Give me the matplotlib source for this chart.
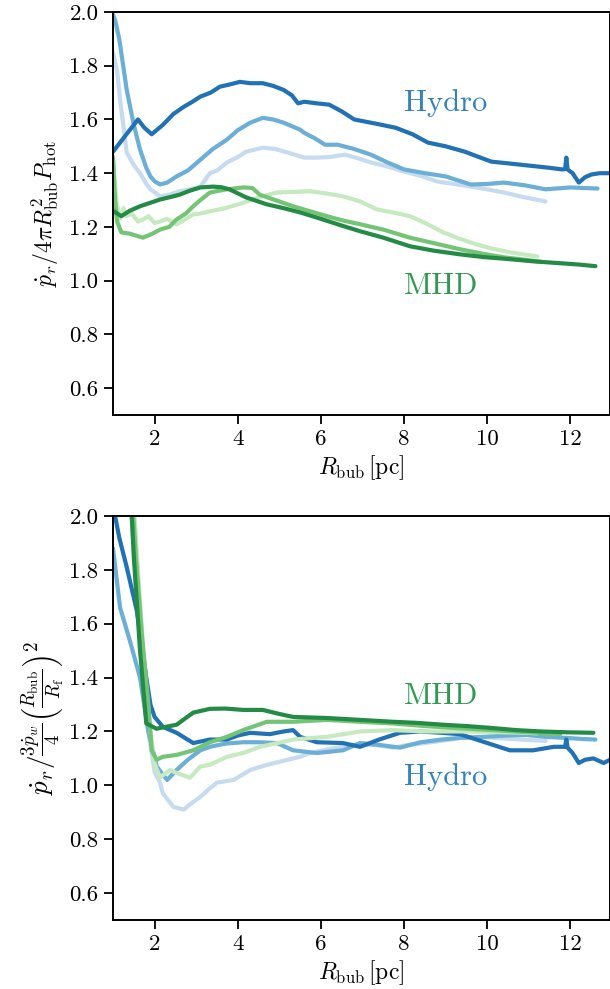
import matplotlib
matplotlib.use("Agg")
import matplotlib.pyplot as plt

plt.rcParams['font.family'] = 'serif'
plt.rcParams['font.serif'] = ['cmr10', 'DejaVu Serif']
plt.rcParams['mathtext.fontset'] = 'cm'
plt.rcParams['axes.formatter.use_mathtext'] = True

# colours
c_hydro = ['#c6dbef', '#6baed6', '#2171b5']
c_mhd = ['#c7e9c0', '#74c476', '#238b45']
c_hydro_txt = '#3182bd'
c_mhd_txt = '#2f9a4f'

# ---------------- top panel data ----------------
top_hydro_dark_x = [1.0, 1.2, 1.4, 1.6, 1.75, 1.93, 2.2, 2.45, 2.7, 2.9, 3.1, 3.35, 3.57, 3.8, 4.05, 4.3, 4.6, 4.85, 5.1, 5.3, 5.45, 5.6, 5.9, 6.2, 6.5, 6.8, 7.3, 7.8, 8.2, 8.57, 9.0, 9.46, 9.8, 10.1, 10.6, 11.2, 11.5, 11.8, 11.87, 11.9, 11.93, 12.05, 12.2, 12.35, 12.5, 12.7, 12.95]
top_hydro_dark_y = [1.48, 1.52, 1.56, 1.60, 1.57, 1.545, 1.58, 1.62, 1.647, 1.665, 1.685, 1.70, 1.722, 1.73, 1.74, 1.735, 1.735, 1.725, 1.71, 1.69, 1.66, 1.666, 1.66, 1.655, 1.63, 1.60, 1.585, 1.569, 1.545, 1.514, 1.50, 1.48, 1.46, 1.443, 1.435, 1.425, 1.42, 1.414, 1.415, 1.458, 1.414, 1.40, 1.365, 1.385, 1.395, 1.40, 1.40]

top_hydro_mid_x = [1.0, 1.05, 1.15, 1.33, 1.5, 1.65, 1.8, 1.9, 2.0, 2.13, 2.3, 2.53, 2.8, 3.1, 3.4, 3.74, 4.0, 4.3, 4.6, 4.85, 5.1, 5.5, 5.6, 5.85, 6.1, 6.4, 6.8, 7.2, 7.6, 8.0, 8.5, 9.0, 9.6, 10.0, 10.4, 10.9, 11.4, 12.0, 12.3, 12.65]
top_hydro_mid_y = [1.99, 1.97, 1.90, 1.71, 1.58, 1.488, 1.42, 1.388, 1.37, 1.358, 1.365, 1.388, 1.41, 1.45, 1.49, 1.525, 1.56, 1.588, 1.606, 1.60, 1.588, 1.562, 1.55, 1.53, 1.506, 1.506, 1.49, 1.469, 1.44, 1.414, 1.40, 1.388, 1.358, 1.36, 1.365, 1.355, 1.34, 1.347, 1.345, 1.343]

top_hydro_light_x = [1.0, 1.1, 1.17, 1.33, 1.5, 1.65, 1.8, 1.9, 2.13, 2.35, 2.6, 2.85, 3.1, 3.33, 3.5, 3.74, 4.0, 4.2, 4.6, 4.9, 5.2, 5.6, 5.86, 6.2, 6.58, 6.9, 7.2, 7.6, 8.0, 8.4, 8.8, 9.2, 9.6, 10.0, 10.4, 10.9, 11.4]
top_hydro_light_y = [1.85, 1.78, 1.673, 1.477, 1.43, 1.40, 1.36, 1.34, 1.314, 1.32, 1.333, 1.34, 1.35, 1.40, 1.41, 1.44, 1.46, 1.48, 1.495, 1.49, 1.477, 1.458, 1.458, 1.46, 1.469, 1.455, 1.44, 1.425, 1.406, 1.39, 1.369, 1.36, 1.35, 1.34, 1.328, 1.31, 1.295]

top_mhd_dark_x = [1.0, 1.1, 1.2, 1.4, 1.65, 1.9, 2.13, 2.4, 2.6, 2.85, 3.1, 3.4, 3.6, 3.8, 4.0, 4.2, 4.45, 4.7, 5.1, 5.5, 6.0, 6.5, 6.94, 7.5, 8.14, 8.7, 9.34, 9.9, 10.54, 11.1, 11.75, 12.2, 12.6]
top_mhd_dark_y = [1.26, 1.25, 1.24, 1.26, 1.277, 1.29, 1.302, 1.312, 1.32, 1.335, 1.347, 1.35, 1.348, 1.34, 1.325, 1.31, 1.297, 1.284, 1.27, 1.254, 1.23, 1.205, 1.184, 1.16, 1.128, 1.112, 1.098, 1.088, 1.08, 1.072, 1.065, 1.06, 1.054]

top_mhd_mid_x = [1.0, 1.05, 1.1, 1.2, 1.4, 1.72, 1.95, 2.13, 2.35, 2.53, 2.75, 2.93, 3.1, 3.33, 3.55, 3.74, 4.13, 4.35, 4.53, 4.9, 5.33, 5.7, 6.14, 6.5, 6.94, 7.5, 8.14, 8.7, 9.34, 9.9, 10.4, 10.9, 11.3]
top_mhd_mid_y = [1.46, 1.30, 1.22, 1.18, 1.175, 1.16, 1.175, 1.19, 1.20, 1.228, 1.25, 1.277, 1.30, 1.328, 1.335, 1.34, 1.347, 1.345, 1.32, 1.30, 1.277, 1.26, 1.24, 1.225, 1.21, 1.19, 1.16, 1.14, 1.117, 1.10, 1.087, 1.078, 1.07]

top_mhd_light_x = [1.0, 1.05, 1.1, 1.17, 1.25, 1.33, 1.45, 1.6, 1.72, 1.85, 2.0, 2.13, 2.3, 2.53, 2.7, 2.93, 3.1, 3.33, 3.7, 4.13, 4.5, 4.94, 5.3, 5.74, 6.1, 6.53, 6.94, 7.35, 7.7, 8.14, 8.5, 8.94, 9.3, 9.74, 10.1, 10.54, 10.9, 11.2]
top_mhd_light_y = [1.45, 1.35, 1.28, 1.23, 1.27, 1.24, 1.25, 1.22, 1.228, 1.24, 1.215, 1.22, 1.23, 1.21, 1.225, 1.247, 1.25, 1.258, 1.27, 1.29, 1.31, 1.328, 1.33, 1.333, 1.325, 1.314, 1.295, 1.265, 1.255, 1.24, 1.215, 1.18, 1.158, 1.135, 1.12, 1.106, 1.097, 1.09]

# ---------------- bottom panel data ----------------
bot_hydro_dark_x = [1.0, 1.05, 1.15, 1.33, 1.57, 1.7, 1.8, 1.9, 2.0, 2.2, 2.53, 2.93, 3.33, 3.74, 4.0, 4.3, 4.77, 5.1, 5.33, 5.5, 5.9, 6.53, 6.94, 7.4, 7.9, 8.4, 8.9, 9.34, 10.0, 10.54, 11.1, 11.6, 11.87, 11.9, 11.93, 12.05, 12.2, 12.35, 12.55, 12.8, 12.95]
bot_hydro_dark_y = [2.15, 2.0, 1.92, 1.81, 1.65, 1.52, 1.40, 1.30, 1.254, 1.217, 1.195, 1.157, 1.17, 1.17, 1.185, 1.195, 1.19, 1.20, 1.205, 1.18, 1.16, 1.157, 1.143, 1.17, 1.195, 1.20, 1.195, 1.19, 1.157, 1.13, 1.13, 1.143, 1.143, 1.17, 1.14, 1.12, 1.083, 1.095, 1.10, 1.083, 1.095]

bot_hydro_mid_x = [1.0, 1.17, 1.4, 1.65, 1.85, 2.05, 2.3, 2.53, 2.8, 3.1, 3.33, 3.7, 4.13, 4.5, 4.94, 5.33, 5.9, 6.53, 6.94, 7.4, 7.9, 8.4, 8.9, 9.34, 9.9, 10.5, 10.95, 11.4, 11.9, 12.3, 12.6]
bot_hydro_mid_y = [1.88, 1.66, 1.54, 1.40, 1.20, 1.07, 1.02, 1.057, 1.095, 1.13, 1.143, 1.155, 1.16, 1.16, 1.157, 1.13, 1.12, 1.13, 1.157, 1.15, 1.14, 1.16, 1.17, 1.176, 1.18, 1.185, 1.187, 1.18, 1.176, 1.172, 1.17]

bot_hydro_light_x = [1.4, 1.55, 1.7, 1.85, 2.0, 2.13, 2.2, 2.45, 2.7, 2.9, 3.1, 3.3, 3.5, 3.9, 4.3, 4.7, 5.2, 5.5, 5.74, 6.2, 6.8, 7.3, 7.73, 8.1, 8.5, 8.9, 9.34, 9.8, 10.3, 10.8, 11.4]
bot_hydro_light_y = [2.1, 1.75, 1.45, 1.2, 1.05, 1.01, 0.97, 0.92, 0.91, 0.935, 0.957, 0.985, 1.01, 1.02, 1.057, 1.076, 1.095, 1.106, 1.12, 1.135, 1.15, 1.15, 1.14, 1.15, 1.157, 1.165, 1.176, 1.18, 1.175, 1.17, 1.165]

bot_mhd_dark_x = [1.42, 1.5, 1.65, 1.8, 2.05, 2.13, 2.53, 2.75, 2.93, 3.33, 3.7, 4.13, 4.6, 5.0, 5.33, 6.14, 6.94, 7.73, 8.3, 8.94, 9.5, 10.1, 10.7, 11.3, 11.9, 12.55]
bot_mhd_dark_y = [2.1, 1.85, 1.50, 1.23, 1.21, 1.213, 1.225, 1.25, 1.27, 1.284, 1.285, 1.28, 1.28, 1.265, 1.254, 1.25, 1.243, 1.236, 1.232, 1.225, 1.22, 1.213, 1.205, 1.2, 1.197, 1.195]

bot_mhd_mid_x = [1.45, 1.55, 1.7, 1.85, 1.93, 2.05, 2.2, 2.53, 2.93, 3.33, 3.74, 4.13, 4.7, 5.33, 6.14, 6.94, 7.7, 8.5, 9.3, 10.1, 10.9, 11.75]
bot_mhd_mid_y = [2.1, 1.85, 1.55, 1.30, 1.13, 1.095, 1.106, 1.113, 1.13, 1.16, 1.18, 1.205, 1.236, 1.236, 1.243, 1.236, 1.23, 1.22, 1.212, 1.205, 1.198, 1.19]

bot_mhd_light_x = [1.48, 1.6, 1.75, 1.9, 2.0, 2.13, 2.37, 2.53, 2.85, 3.1, 3.33, 3.74, 4.13, 4.53, 4.9, 5.33, 6.14, 6.94, 7.73, 8.5, 9.34, 10.1, 10.95, 11.2]
bot_mhd_light_y = [2.1, 1.80, 1.45, 1.20, 1.08, 1.03, 1.057, 1.046, 1.028, 1.07, 1.076, 1.106, 1.12, 1.143, 1.155, 1.17, 1.18, 1.2, 1.205, 1.2, 1.2, 1.198, 1.195, 1.193]

xticks = [2, 4, 6, 8, 10, 12]
yticks = [0.6, 0.8, 1.0, 1.2, 1.4, 1.6, 1.8, 2.0]

top_ylabel = r'$\dot{p}_r/4\pi R_\mathrm{bub}^2 P_\mathrm{hot}$'
bot_ylabel = r'$\dot{p}_r/\frac{3\dot{p}_w}{4}\left(\frac{R_\mathrm{bub}}{R_\mathrm{f}}\right)^2$'
xlabel = r'$R_\mathrm{bub}\,[\mathrm{pc}]$'

fig = plt.figure(figsize=(6.10, 9.89), dpi=100)
W, H = 610, 989
ax1 = fig.add_axes([113 / W, 1 - 415 / H, 1 - 113 / W, (415 - 12) / H])
ax2 = fig.add_axes([113 / W, 1 - 920 / H, 1 - 113 / W, (920 - 516) / H])

lw = 3.0
top_series = [
    (top_hydro_light_x, top_hydro_light_y, c_hydro[0]),
    (top_hydro_mid_x, top_hydro_mid_y, c_hydro[1]),
    (top_hydro_dark_x, top_hydro_dark_y, c_hydro[2]),
    (top_mhd_light_x, top_mhd_light_y, c_mhd[0]),
    (top_mhd_mid_x, top_mhd_mid_y, c_mhd[1]),
    (top_mhd_dark_x, top_mhd_dark_y, c_mhd[2]),
]
bot_series = [
    (bot_hydro_light_x, bot_hydro_light_y, c_hydro[0]),
    (bot_hydro_mid_x, bot_hydro_mid_y, c_hydro[1]),
    (bot_hydro_dark_x, bot_hydro_dark_y, c_hydro[2]),
    (bot_mhd_light_x, bot_mhd_light_y, c_mhd[0]),
    (bot_mhd_mid_x, bot_mhd_mid_y, c_mhd[1]),
    (bot_mhd_dark_x, bot_mhd_dark_y, c_mhd[2]),
]

for ax, series in [(ax1, top_series), (ax2, bot_series)]:
    for x, y, c in series:
        ax.plot(x, y, color=c, lw=lw, solid_capstyle='round', solid_joinstyle='round')
    ax.set_xlim(1.0, 12.95)
    ax.set_ylim(0.5, 2.0)
    ax.set_xticks(xticks)
    ax.set_yticks(yticks)
    ax.set_xticklabels([str(t) for t in xticks])
    ax.set_yticklabels(['%.1f' % t for t in yticks])
    ax.tick_params(direction='out', length=6.5, width=1.3, labelsize=16.5, pad=4)
    for s in ax.spines.values():
        s.set_linewidth(1.4)
    ax.set_xlabel(xlabel, fontsize=17, labelpad=3)

ax1.set_ylabel(top_ylabel, fontsize=17, labelpad=6)
ax2.set_ylabel(bot_ylabel, fontsize=19.5, labelpad=2)

ax1.text(8.0, 1.63, 'Hydro', color=c_hydro_txt, fontsize=22, ha='left', va='baseline')
ax1.text(8.0, 0.95, 'MHD', color=c_mhd_txt, fontsize=22, ha='left', va='baseline')
ax2.text(8.0, 1.302, 'MHD', color=c_mhd_txt, fontsize=22, ha='left', va='baseline')
ax2.text(8.0, 1.0, 'Hydro', color=c_hydro_txt, fontsize=22, ha='left', va='baseline')

fig.savefig('out.png', dpi=100)
